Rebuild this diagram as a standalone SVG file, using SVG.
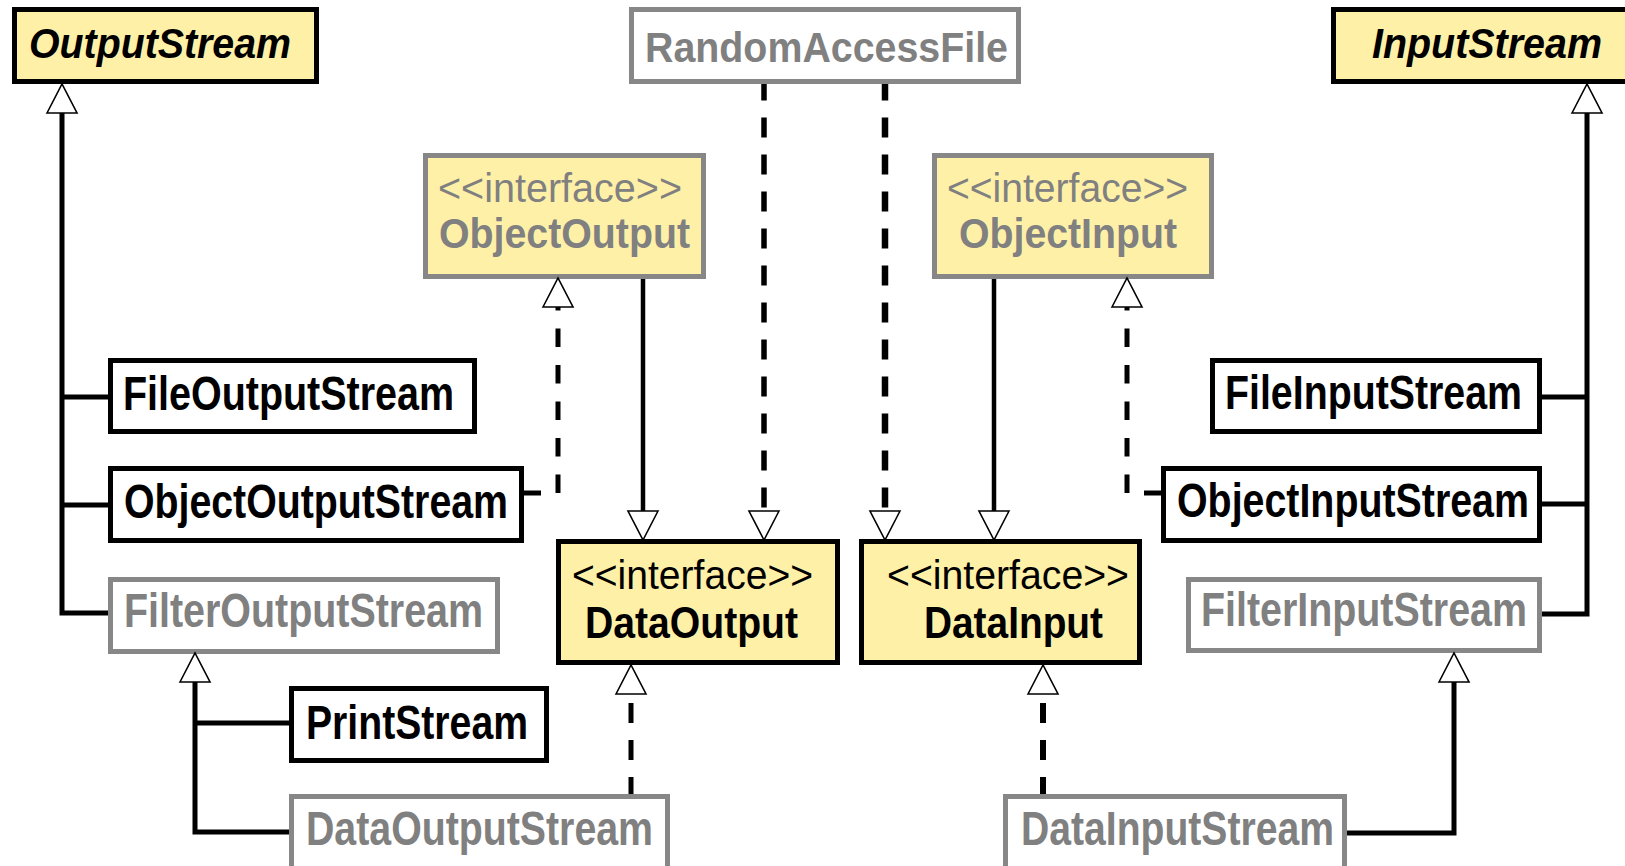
<svg xmlns="http://www.w3.org/2000/svg" width="1625" height="866" viewBox="0 0 1625 866">
  <style>
    text { font-family: "Liberation Sans", Arial, Helvetica, sans-serif; }
    .box { stroke-width: 5; }
    .abstract { fill: #FFF0A8; stroke: #000; }
    .iface { fill: #FFF0A8; stroke: #000; }
    .iface-dim { fill: #FFF0A8; stroke: #878787; }
    .cls { fill: #fff; stroke: #000; }
    .cls-dim { fill: #fff; stroke: #878787; }
    .name { font-weight: bold; font-size: 48px; fill: #000; }
    .name-dim { font-weight: bold; font-size: 48px; fill: #808080; }
    .title { font-weight: bold; font-style: italic; font-size: 43px; fill: #000; }
    .stereo { font-size: 40px; fill: #000; }
    .stereo-dim { font-size: 40px; fill: #808080; }
    .iname { font-weight: bold; font-size: 44px; fill: #000; }
    .iname-dim { font-weight: bold; font-size: 42px; fill: #808080; }
    .link { fill: none; stroke: #000; stroke-width: 5; stroke-linejoin: miter; stroke-linecap: butt; }
    .dash { stroke-dasharray: 20 17; }
    .dash-short { stroke-dasharray: 18.5 18; }
  </style>
  <defs>
    <!-- hollow generalization / realization head; reference point sits on the base -->
    <marker id="head" viewBox="0 0 29 30" refX="0" refY="15" markerWidth="29" markerHeight="30"
            markerUnits="userSpaceOnUse" orient="auto" overflow="visible">
      <path d="M0,0 L29,15 L0,30 Z" fill="#fff" stroke="#000" stroke-width="1.6" stroke-linejoin="miter"/>
    </marker>
  </defs>

  <!-- class and interface nodes -->
  <g id="OutputStream">
    <rect class="box abstract" x="14.5" y="9.5" width="302" height="72"/>
    <text class="title" x="29" y="58" textLength="262" lengthAdjust="spacingAndGlyphs">OutputStream</text>
  </g>
  <g id="RandomAccessFile">
    <rect class="box cls-dim" x="631.5" y="9.5" width="387" height="72"/>
    <text class="name-dim" style="font-size:42px" x="645" y="62" textLength="363" lengthAdjust="spacingAndGlyphs">RandomAccessFile</text>
  </g>
  <g id="InputStream">
    <rect class="box abstract" x="1333.5" y="9.5" width="320" height="72"/>
    <text class="title" x="1372" y="58" textLength="230" lengthAdjust="spacingAndGlyphs">InputStream</text>
  </g>
  <g id="ObjectOutput">
    <rect class="box iface-dim" x="425.5" y="155.5" width="278" height="121"/>
    <text class="stereo-dim" x="438" y="202" textLength="244" lengthAdjust="spacingAndGlyphs">&lt;&lt;interface&gt;&gt;</text>
    <text class="iname-dim" x="439" y="248" textLength="251" lengthAdjust="spacingAndGlyphs">ObjectOutput</text>
  </g>
  <g id="ObjectInput">
    <rect class="box iface-dim" x="934.5" y="155.5" width="277" height="121"/>
    <text class="stereo-dim" x="947" y="202" textLength="241" lengthAdjust="spacingAndGlyphs">&lt;&lt;interface&gt;&gt;</text>
    <text class="iname-dim" x="959" y="248" textLength="218" lengthAdjust="spacingAndGlyphs">ObjectInput</text>
  </g>
  <g id="FileOutputStream">
    <rect class="box cls" x="110.5" y="360.5" width="364" height="71"/>
    <text class="name" x="123" y="410" textLength="331" lengthAdjust="spacingAndGlyphs">FileOutputStream</text>
  </g>
  <g id="ObjectOutputStream">
    <rect class="box cls" x="110.5" y="468.5" width="411" height="72"/>
    <text class="name" x="124" y="518" textLength="384" lengthAdjust="spacingAndGlyphs">ObjectOutputStream</text>
  </g>
  <g id="FilterOutputStream">
    <rect class="box cls-dim" x="110.5" y="579.5" width="387" height="72"/>
    <text class="name-dim" x="124" y="627" textLength="359" lengthAdjust="spacingAndGlyphs">FilterOutputStream</text>
  </g>
  <g id="PrintStream">
    <rect class="box cls" x="291.5" y="688.5" width="255" height="72"/>
    <text class="name" x="306" y="739" textLength="222" lengthAdjust="spacingAndGlyphs">PrintStream</text>
  </g>
  <g id="DataOutputStream">
    <rect class="box cls-dim" x="291.5" y="796.5" width="376" height="100"/>
    <text class="name-dim" x="306" y="845" textLength="347" lengthAdjust="spacingAndGlyphs">DataOutputStream</text>
  </g>
  <g id="DataOutput">
    <rect class="box iface" x="558.5" y="541.5" width="279" height="121"/>
    <text class="stereo" x="572" y="589" textLength="241" lengthAdjust="spacingAndGlyphs">&lt;&lt;interface&gt;&gt;</text>
    <text class="iname" x="585" y="638" textLength="213" lengthAdjust="spacingAndGlyphs">DataOutput</text>
  </g>
  <g id="DataInput">
    <rect class="box iface" x="861.5" y="541.5" width="278" height="121"/>
    <text class="stereo" x="887" y="589" textLength="242" lengthAdjust="spacingAndGlyphs">&lt;&lt;interface&gt;&gt;</text>
    <text class="iname" x="924" y="638" textLength="179" lengthAdjust="spacingAndGlyphs">DataInput</text>
  </g>
  <g id="FileInputStream">
    <rect class="box cls" x="1212.5" y="360.5" width="327" height="71"/>
    <text class="name" x="1225" y="409" textLength="297" lengthAdjust="spacingAndGlyphs">FileInputStream</text>
  </g>
  <g id="ObjectInputStream">
    <rect class="box cls" x="1163.5" y="468.5" width="376" height="72"/>
    <text class="name" x="1177" y="517" textLength="352" lengthAdjust="spacingAndGlyphs">ObjectInputStream</text>
  </g>
  <g id="FilterInputStream">
    <rect class="box cls-dim" x="1188.5" y="579.5" width="351" height="71"/>
    <text class="name-dim" x="1201" y="626" textLength="326" lengthAdjust="spacingAndGlyphs">FilterInputStream</text>
  </g>
  <g id="DataInputStream">
    <rect class="box cls-dim" x="1005.5" y="796.5" width="339" height="100"/>
    <text class="name-dim" x="1021" y="845" textLength="313" lengthAdjust="spacingAndGlyphs">DataInputStream</text>
  </g>

  <!-- inheritance and realization connectors -->
  <g id="connectors">
    <!-- OutputStream subclasses -->
    <path class="link" d="M108,613 H62 V113" marker-end="url(#head)"/>
    <path class="link" d="M62,397 H108"/>
    <path class="link" d="M62,505 H108"/>
    <!-- FilterOutputStream subclasses -->
    <path class="link" d="M289,832 H195 V682" marker-end="url(#head)"/>
    <path class="link" d="M195,723 H289"/>
    <!-- InputStream subclasses -->
    <path class="link" d="M1542,614 H1587 V113" marker-end="url(#head)"/>
    <path class="link" d="M1542,397 H1587"/>
    <path class="link" d="M1542,504 H1587"/>
    <!-- FilterInputStream subclass -->
    <path class="link" d="M1347,833 H1454 V682" marker-end="url(#head)"/>

    <!-- ObjectOutputStream implements ObjectOutput -->
    <path class="link" d="M524,493 H541"/>
    <path class="link dash-short" d="M558,493 V307" marker-end="url(#head)"/>
    <!-- ObjectInputStream implements ObjectInput -->
    <path class="link" d="M1161,493 H1144"/>
    <path class="link dash-short" d="M1127,493 V307" marker-end="url(#head)"/>

    <!-- ObjectOutput extends DataOutput, ObjectInput extends DataInput -->
    <path class="link" style="stroke-width:4.5" d="M643,279 V511" marker-end="url(#head)"/>
    <path class="link" style="stroke-width:4.5" d="M994,279 V511" marker-end="url(#head)"/>

    <!-- RandomAccessFile implements DataOutput and DataInput -->
    <path class="link dash" style="stroke-width:5.5; stroke-dashoffset:3.5" d="M764,84 V511" marker-end="url(#head)"/>
    <path class="link dash" style="stroke-width:6.5; stroke-dashoffset:3.5" d="M885,84 V511" marker-end="url(#head)"/>

    <!-- DataOutputStream / DataInputStream implement DataOutput / DataInput -->
    <path class="link dash" style="stroke-dashoffset:3" d="M631,794 V694" marker-end="url(#head)"/>
    <path class="link dash" style="stroke-width:6; stroke-dashoffset:3" d="M1043,794 V694" marker-end="url(#head)"/>
  </g>
</svg>
